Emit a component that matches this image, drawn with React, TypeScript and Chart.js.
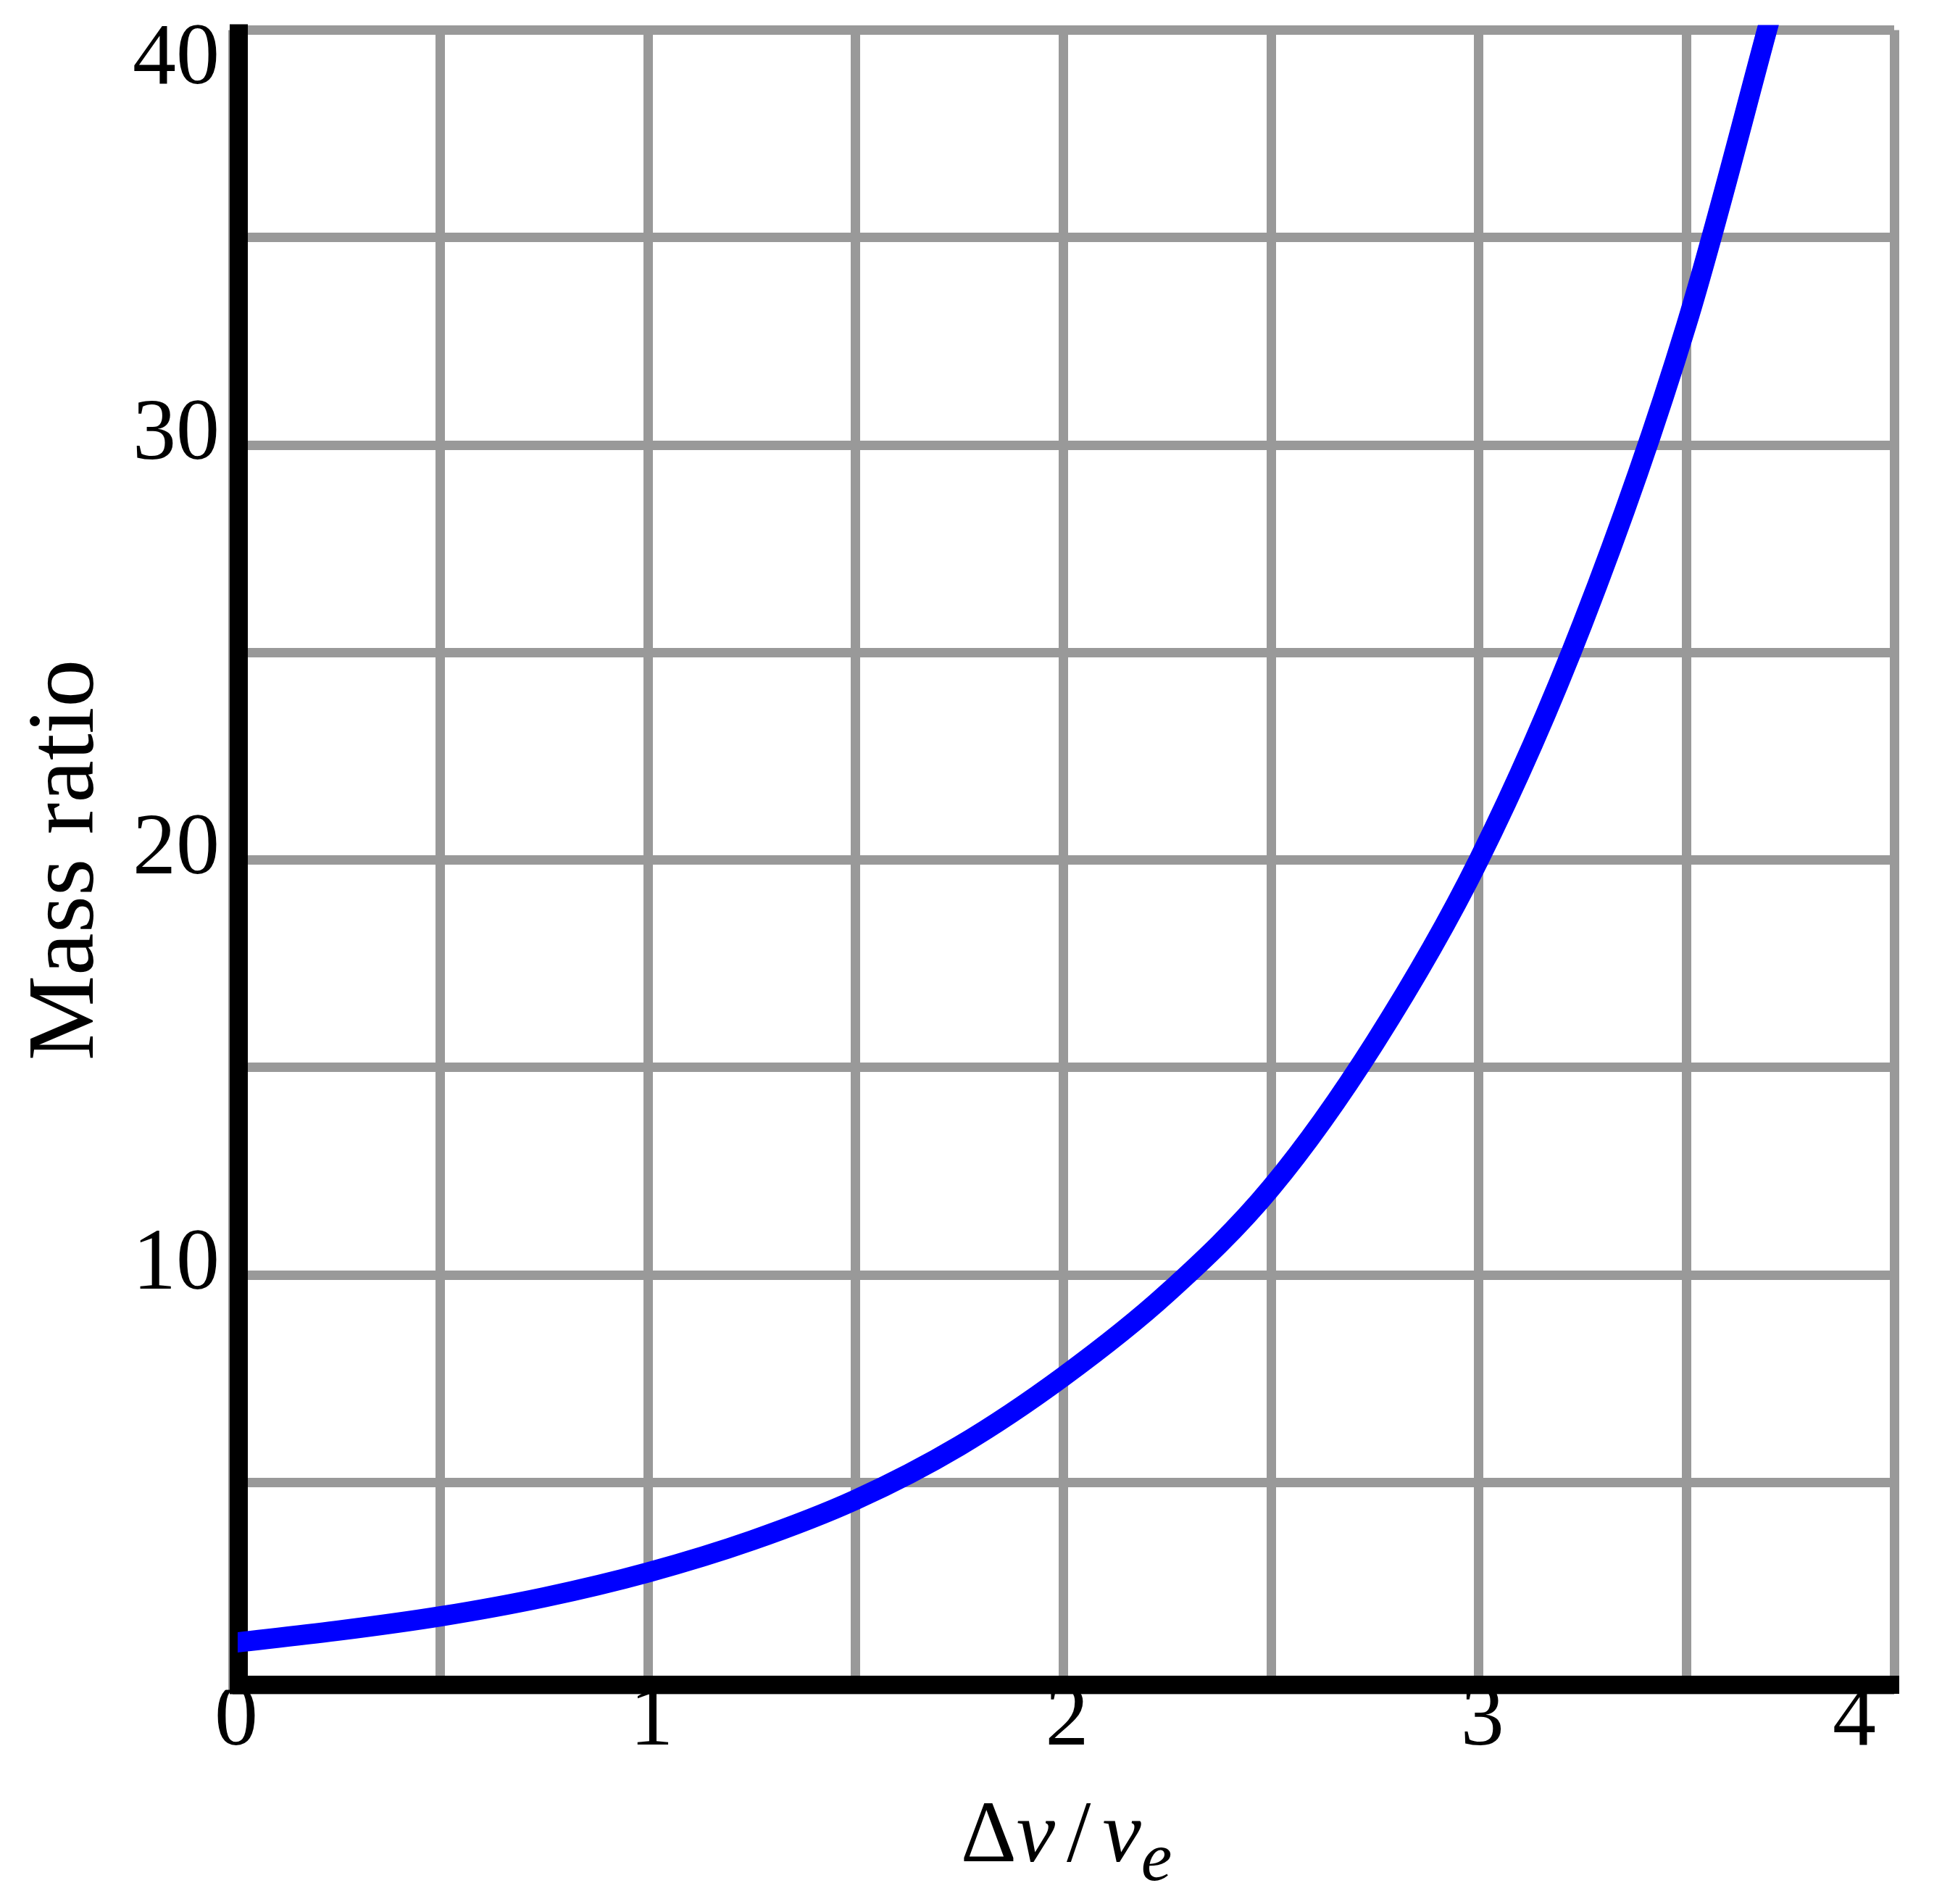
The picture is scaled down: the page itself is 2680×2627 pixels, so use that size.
import React, { useEffect, useRef } from 'react';
import { Chart, registerables } from 'chart.js';

Chart.register(...registerables);

// ---- data ----
const deltaVOverVe = [0, 0.25, 0.5, 0.75, 1, 1.25, 1.5, 1.75, 2, 2.25, 2.5, 2.75, 3, 3.25, 3.5, 3.71];
const massRatio = [1.13, 1.42, 1.77, 2.23, 2.83, 3.6, 4.58, 5.88, 7.55, 9.56, 12.1, 15.6, 20.0, 25.7, 32.9, 40.6];

const xTickValues = [0, 1, 2, 3, 4];
const xTickLabels = ['0', '1', '2', '3', '4\u00a0\u00a0\u00a0\u00a0'];
const yTickValues = [10, 20, 30, 40];
const yTickLabels = ['10', '20', '30', '40'];

const yAxisTitle = 'Mass ratio';
const xAxisTitleParts = [
  { text: '\u0394', italic: false, sub: false },
  { text: 'v', italic: true, sub: false },
  { text: '/', italic: false, sub: false, gap: 16 },
  { text: 'v', italic: true, sub: false },
  { text: 'e', italic: true, sub: true },
];

const X_MIN = 0;
const X_MAX = 4;
const Y_MIN = 0;
const Y_MAX = 40;

const FONT = "'Liberation Serif', 'Times New Roman', serif";
const W = 2680;
const H = 2627;

const axisLinesPlugin = {
  id: 'axisLines',
  beforeDatasetsDraw(chart: any) {
    const { ctx, chartArea: a } = chart;
    ctx.save();
    ctx.fillStyle = '#000000';
    // vertical axis line
    ctx.fillRect(a.left - 4, a.top - 8, 25, a.bottom + 6 - (a.top - 8));
    // horizontal axis line
    ctx.fillRect(a.left - 4, a.bottom - 19.5, a.right + 7 - (a.left - 4), 25);
    ctx.restore();
  },
};

const xTitlePlugin = {
  id: 'xTitle',
  afterDraw(chart: any) {
    const { ctx, chartArea: a } = chart;
    const size = 120;
    const subSize = 96;
    ctx.save();
    ctx.fillStyle = '#000000';
    ctx.textBaseline = 'alphabetic';
    ctx.textAlign = 'left';
    const fontFor = (p: any) =>
      `${p.italic ? 'italic ' : ''}${p.sub ? subSize : size}px ${FONT}`;
    let total = 0;
    const widths: number[] = [];
    xAxisTitleParts.forEach((p: any) => {
      ctx.font = fontFor(p);
      const w = ctx.measureText(p.text).width + (p.gap ? 2 * p.gap : 0);
      widths.push(w);
      total += w;
    });
    let x = (a.left + a.right) / 2 - total / 2 + 4;
    const baseline = a.bottom + 236;
    xAxisTitleParts.forEach((p: any, i: number) => {
      ctx.font = fontFor(p);
      ctx.fillText(p.text, x + (p.gap || 0), baseline + (p.sub ? 26 : 0));
      x += widths[i];
    });
    ctx.restore();
  },
};

export default function App() {
  const canvasRef = useRef<HTMLCanvasElement | null>(null);

  useEffect(() => {
    if (!canvasRef.current) return;
    const points = deltaVOverVe.map((x, i) => ({ x, y: massRatio[i] }));
    const chart = new Chart(canvasRef.current, {
      type: 'line',
      data: {
        datasets: [
          {
            data: points,
            borderColor: '#0000ff',
            borderWidth: 28,
            pointRadius: 0,
            pointHoverRadius: 0,
            fill: false,
            cubicInterpolationMode: 'monotone',
            clip: { left: -7, top: 7, right: 0, bottom: 0 } as any,
          },
        ],
      },
      options: {
        animation: false,
        responsive: false,
        devicePixelRatio: 1,
        events: [],
        layout: { padding: { left: 0, top: 41.5, right: 66, bottom: 0 } },
        plugins: {
          legend: { display: false },
          tooltip: { enabled: false },
          title: { display: false },
        },
        scales: {
          x: {
            type: 'linear',
            min: X_MIN,
            max: X_MAX,
            grid: { color: '#999999', lineWidth: 13, drawTicks: false },
            border: { display: false },
            ticks: {
              stepSize: 0.5,
              autoSkip: false,
              maxRotation: 0,
              minRotation: 0,
              padding: 0,
              labelOffset: 5,
              color: '#000000',
              font: { family: FONT, size: 120, lineHeight: '88px' },
              callback: (v: any) => {
                const idx = xTickValues.indexOf(Number(v));
                return idx >= 0 ? xTickLabels[idx] : '';
              },
            },
            afterFit: (scale: any) => {
              scale.height = H - 2331.5;
              scale.paddingLeft = 0;
              scale.paddingRight = 0;
            },
          },
          y: {
            type: 'linear',
            min: Y_MIN,
            max: Y_MAX,
            grid: { color: '#999999', lineWidth: 13, drawTicks: false },
            border: { display: false },
            title: {
              display: true,
              text: yAxisTitle,
              color: '#000000',
              font: { family: FONT, size: 132, lineHeight: 1.2 },
              padding: { top: 14, bottom: 0 },
            },
            ticks: {
              stepSize: 5,
              autoSkip: false,
              padding: 18,
              labelOffset: -13,
              color: '#000000',
              font: { family: FONT, size: 120, lineHeight: '110px' },
              callback: (v: any) => {
                const n = Number(v);
                const idx = yTickValues.indexOf(n);
                if (idx < 0) return '';
                if (n === Y_MAX) return ['', yTickLabels[idx]];
                return yTickLabels[idx];
              },
            },
            afterFit: (scale: any) => {
              scale.width = 321;
              scale.paddingTop = 0;
              scale.paddingBottom = 0;
            },
          },
        },
      },
      plugins: [axisLinesPlugin, xTitlePlugin],
    } as any);
    return () => chart.destroy();
  }, []);

  return (
    <div style={{ position: 'absolute', left: 0, top: 0, width: W, height: H, background: '#ffffff' }}>
      <canvas ref={canvasRef} width={W} height={H} style={{ display: 'block' }} />
    </div>
  );
}
